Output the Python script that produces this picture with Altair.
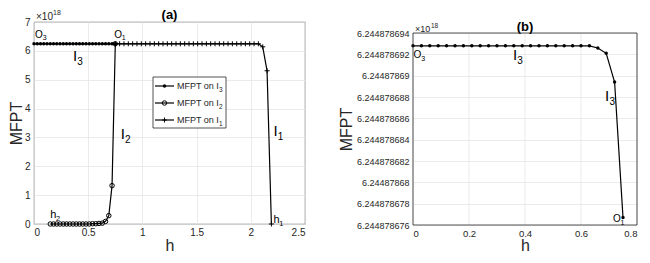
import altair as alt
import pandas as pd

FONT = "Liberation Sans"
INK = "#262626"
GRID = "#e6e6e6"

# ---------------- data (MFPT in units of 1e18) ----------------
h_I3 = [0.00, 0.03, 0.06, 0.09, 0.12, 0.15, 0.18, 0.21, 0.24, 0.27, 0.30, 0.33, 0.36,
        0.39, 0.42, 0.45, 0.48, 0.51, 0.54, 0.57, 0.60, 0.63, 0.66, 0.69, 0.72, 0.75]
m_I3 = [6.2448786928, 6.2448786928, 6.2448786928, 6.2448786928, 6.2448786928,
        6.2448786928, 6.2448786928, 6.2448786928, 6.2448786928, 6.2448786928,
        6.2448786928, 6.2448786928, 6.2448786928, 6.2448786928, 6.2448786928,
        6.2448786928, 6.2448786928, 6.2448786928, 6.2448786928, 6.2448786928,
        6.2448786928, 6.2448786928, 6.2448786926, 6.2448786921, 6.2448786894,
        6.2448786767]

h_I2 = [0.15, 0.18, 0.21, 0.24, 0.27, 0.30, 0.33, 0.36, 0.39, 0.42, 0.45, 0.48, 0.51,
        0.54, 0.57, 0.60, 0.63, 0.66, 0.69, 0.72, 0.75]
m_I2 = [0.00, 0.00, 0.00, 0.00, 0.00, 0.00, 0.00, 0.00, 0.00, 0.00, 0.00, 0.00, 0.00,
        0.01, 0.01, 0.02, 0.03, 0.09, 0.29, 1.33, 6.2448786767]

h_I1 = [0.75, 0.79, 0.83, 0.87, 0.91, 0.95, 0.99, 1.03, 1.07, 1.11, 1.15, 1.19, 1.23,
        1.27, 1.31, 1.35, 1.39, 1.43, 1.47, 1.51, 1.55, 1.59, 1.63, 1.67, 1.71, 1.75,
        1.79, 1.83, 1.87, 1.91, 1.95, 1.99, 2.03, 2.07, 2.11, 2.15, 2.19]
m_I1 = [6.2448786767, 6.2449, 6.2449, 6.2449, 6.2449, 6.2449, 6.2449, 6.2449, 6.2449,
        6.2449, 6.2449, 6.2449, 6.2449, 6.2449, 6.2449, 6.2449, 6.2449, 6.2449, 6.2449,
        6.2449, 6.2449, 6.2449, 6.2449, 6.2449, 6.2449, 6.2449, 6.2449, 6.2449, 6.2449,
        6.2449, 6.2449, 6.2449, 6.2449, 6.2449, 6.14, 5.31, 0.00]

xa_ticks = [0, 0.5, 1, 1.5, 2, 2.5]
ya_ticks = [0, 1, 2, 3, 4, 5, 6, 7]
xb_ticks = [0, 0.2, 0.4, 0.6, 0.8]
yb_ticks = [6.244878676, 6.244878678, 6.244878680, 6.244878682, 6.244878684,
            6.244878686, 6.244878688, 6.244878690, 6.244878692, 6.244878694]

# annotation labels: (h, MFPT, main text, subscript)
ann_a_O = [(0.01, 6.45, "O", "3"), (0.74, 6.45, "O", "1")]
ann_a_I = [(0.36, 5.65, "I", "3"), (0.80, 2.95, "I", "2"), (2.21, 3.05, "I", "1")]
ann_a_h = [(0.15, 0.21, "h", "2"), (2.21, 0.035, "h", "1")]
ann_b_O = [(0.002, 6.24487869161, "O", "3"), (0.714, 6.24487867628, "O", "1")]
ann_b_I = [(0.357, 6.24487869143, "I", "3"), (0.686, 6.24487868766, "I", "3")]

legend_labels = ["MFPT on I", "MFPT on I", "MFPT on I"]
legend_subs = ["3", "2", "1"]

PLUS = "M-1,0H1M0,-1V1"


def enc(sx, sy, ax, ay):
    return dict(x=alt.X("h:Q", scale=sx, axis=ax), y=alt.Y("m:Q", scale=sy, axis=ay))


def marker(data, kind):
    if kind == "dot":
        return alt.Chart(data).mark_point(shape="circle", filled=True, size=12, color="black", opacity=1)
    if kind == "circle":
        return alt.Chart(data).mark_point(shape="circle", filled=False, size=20, strokeWidth=1,
                                          color="black", opacity=1)
    return alt.Chart(data).mark_point(shape=PLUS, filled=False, size=25, strokeWidth=1,
                                      color="black", opacity=1)


def series(h, m, e, kind):
    df = pd.DataFrame({"h": h, "m": m})
    line = alt.Chart(df).mark_line(color="black", strokeWidth=1.2).encode(**e)
    return [line, marker(df, kind).encode(**e)]


def ann(rows, e, size, subsize, dx, dy):
    df = pd.DataFrame(rows, columns=["h", "m", "t", "s"])
    main = alt.Chart(df).mark_text(align="left", baseline="alphabetic", font=FONT,
                                   fontSize=size, color="black").encode(**e, text="t:N")
    sub = alt.Chart(df).mark_text(align="left", baseline="alphabetic", font=FONT,
                                  fontSize=subsize, dx=dx, dy=dy, color="black").encode(**e, text="s:N")
    return [main, sub]


one = pd.DataFrame({"k": [0]})


def pix_text(txt, px, py, size, opacity=1, baseline="alphabetic", align="left",
             weight="normal", color=INK):
    return alt.Chart(one).mark_text(text=txt, align=align, baseline=baseline, font=FONT,
                                    fontSize=size, color=color, fontWeight=weight,
                                    opacity=opacity).encode(x=alt.value(px), y=alt.value(py))


# ---------------- panel (a) ----------------
WA, HA = 271, 202
sxa = alt.Scale(domain=[0, 2.5], nice=False, zero=False)
sya = alt.Scale(domain=[0, 7], nice=False, zero=False)
axxa = alt.Axis(values=xa_ticks, format="~g", title="h", labelPadding=3, titlePadding=0)
axya = alt.Axis(values=ya_ticks, format="d", title="MFPT", labelPadding=4, titlePadding=0)
ea = enc(sxa, sya, axxa, axya)

layers_a = []
layers_a += series(h_I3, m_I3, ea, "dot")
layers_a += series(h_I2, m_I2, ea, "circle")
layers_a += series(h_I1, m_I1, ea, "plus")
layers_a += ann(ann_a_O, ea, 10, 7, 7.6, 2.5)
layers_a += ann(ann_a_I, ea, 15, 10, 4.3, 4)
layers_a += ann(ann_a_h, ea, 11, 7.5, 5.8, 3)

# panel title and x10^18 multiplier
layers_a.append(pix_text("(a)", WA / 2, -3, 13, align="center", weight="bold", color="black"))
layers_a.append(pix_text("\u00d710", 2, -2.5, 10))
layers_a.append(pix_text("18", 19, -7.5, 7))

# legend box
layers_a.append(alt.Chart(one).mark_rect(fill="white", stroke=INK, strokeWidth=0.8).encode(
    x=alt.value(119), x2=alt.value(192), y=alt.value(55), y2=alt.value(106)))
leg_y = [64, 81, 98]
kinds = ["dot", "circle", "plus"]
for lab, sub, py, kind in zip(legend_labels, legend_subs, leg_y, kinds):
    layers_a.append(alt.Chart(one).mark_rule(color="black", strokeWidth=1.2).encode(
        x=alt.value(121), x2=alt.value(140), y=alt.value(py)))
    layers_a.append(marker(one, kind).encode(x=alt.value(130.5), y=alt.value(py)))
    layers_a.append(pix_text(lab, 143, py + 3, 9))
    layers_a.append(pix_text(sub, 185, py + 6, 6.5))

panel_a = alt.layer(*layers_a).properties(width=WA, height=HA)

# ---------------- panel (b) ----------------
# the plotting frame of (b) starts OFF px below the group top (aligned with (a))
WB, OFF, HB = 224, 11, 203
sxb = alt.Scale(domain=[0, 0.8], nice=False, zero=False)
syb = alt.Scale(domain=[6.244878676, 6.244878694], range=[HB, OFF], nice=False, zero=False)
axxb = alt.Axis(values=xb_ticks, format="~g", title="h", labelPadding=3, titlePadding=0,
                labelFontSize=9.5, grid=False)
axyb = alt.Axis(values=yb_ticks, labelExpr="format(datum.value, '.10~g')", title="MFPT",
                labelPadding=4, titlePadding=2, labelFontSize=9)
eb = enc(sxb, syb, axxb, axyb)

layers_b = []
layers_b.append(alt.Chart(pd.DataFrame({"h": xb_ticks})).mark_rule(color=GRID, strokeWidth=0.8).encode(
    x=alt.X("h:Q", scale=sxb, axis=axxb), y=alt.value(OFF), y2=alt.value(HB)))
layers_b += series(h_I3, m_I3, eb, "dot")
layers_b += ann(ann_b_O, eb, 10, 7, 7.6, 2.5)
layers_b += ann(ann_b_I, eb, 15, 10, 4.3, 4)
layers_b.append(pix_text("(b)", WB / 2, OFF - 2.5, 13, align="center", weight="bold", color="black"))
layers_b.append(pix_text("\u00d710", 2, OFF - 1, 9))
layers_b.append(pix_text("18", 18, OFF - 5.5, 6.5))
layers_b.append(alt.Chart(one).mark_rect(fill="transparent", stroke=INK, strokeWidth=0.8).encode(
    x=alt.value(0), x2=alt.value(WB), y=alt.value(OFF), y2=alt.value(HB)))

panel_b = alt.layer(*layers_b).properties(width=WB, height=HB,
                                          view=alt.ViewConfig(stroke="transparent"))

chart = alt.hconcat(panel_a, panel_b, spacing=32).properties(
    padding=0
).configure_view(
    stroke=INK, strokeWidth=0.8
).configure_axis(
    labelFont=FONT, labelFontSize=10, labelColor=INK, titleFont=FONT, titleFontSize=16,
    titleFontWeight="normal", titleColor=INK, ticks=False, domain=False,
    gridColor=GRID, gridWidth=0.8
)

chart.save("out.html", embed_options={"renderer": "svg", "actions": False})
